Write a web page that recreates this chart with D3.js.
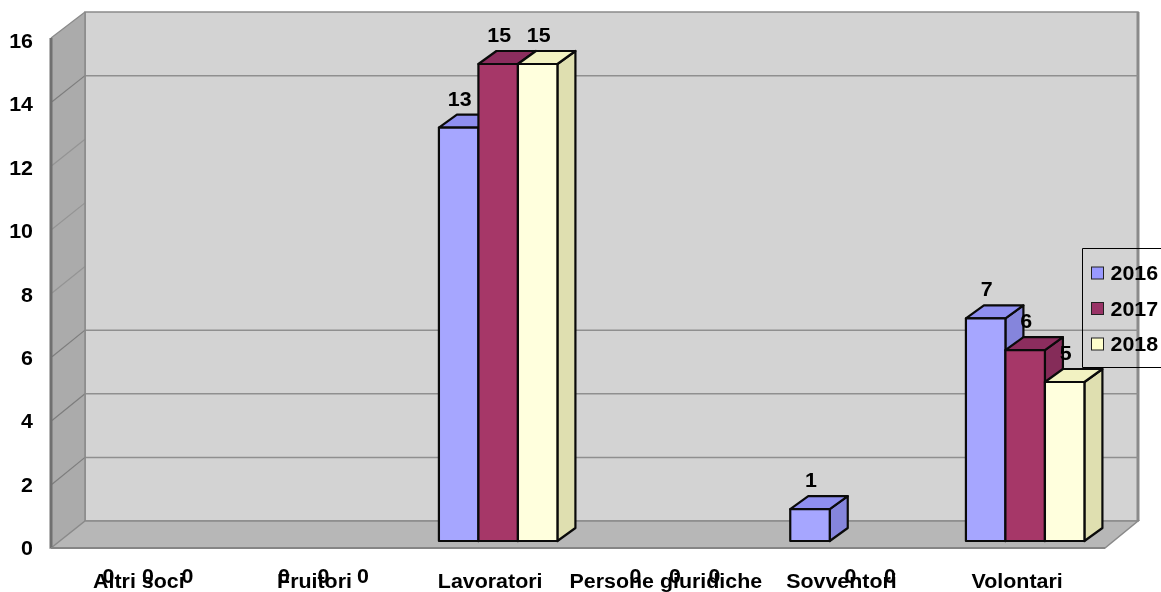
<!DOCTYPE html>
<html>
<head>
<meta charset="utf-8">
<script src="https://cdn.jsdelivr.net/npm/d3@7/dist/d3.min.js"></script>
<style>
html,body{margin:0;padding:0;background:#fff;overflow:hidden}
svg{display:block;filter:blur(0.45px)}
text{font-family:"Liberation Sans",Arial,sans-serif;font-weight:700;font-size:20px;fill:#000}
</style>
</head>
<body>
<svg id="c" width="1161" height="592"></svg>
<script>
const categories = ["Altri soci","Fruitori","Lavoratori","Persone giuridiche","Sovventori","Volontari"];
const seriesNames = ["2016","2017","2018"];
const v2016 = [0,0,13,0,1,7];
const v2017 = [0,0,15,0,0,6];
const v2018 = [0,0,15,0,0,5];
const seriesValues = [v2016,v2017,v2018];
const yTicks = [0,2,4,6,8,10,12,14,16];
const strongGrid = [2,4,6,14];
const faces = [
  {front:"#a6a6ff",top:"#8f8ff0",side:"#8585dc",key:"#9999ff"},
  {front:"#a63768",top:"#8c2d5e",side:"#852c59",key:"#993366"},
  {front:"#ffffdd",top:"#f2f2c2",side:"#dfdfb0",key:"#ffffcc"}
];

const svg = d3.select("#c");
const dx = 34;                 // wall depth offset
const bdx = 18, bdy = 13;      // bar depth offset
const yFront = d3.scaleLinear().domain([0,16]).range([548,38]);
const yBack  = d3.scaleLinear().domain([0,16]).range([521,12]);
const yBar   = d3.scaleLinear().domain([0,16]).range([541,32.2]);
const yLabel = d3.scaleLinear().domain([0,16]).range([555,48]);
const x0 = d3.scaleBand().domain(categories).range([51,1105]);
const x1 = d3.scaleBand().domain(seriesNames).range([0,118.5]);
const xL = 51, xR = 1105, xBack = 1138;
const poly = p => p.map(a=>a.join(",")).join(" ");

// back wall
svg.append("rect").attr("x",xL+dx).attr("y",yBack(16)).attr("width",xBack-xL-dx).attr("height",yBack(0)-yBack(16))
  .attr("fill","#d3d3d3").attr("stroke","#8a8a8a").attr("stroke-width",1.5);
// right edge of wall
svg.append("line").attr("x1",xBack).attr("x2",xBack).attr("y1",yBack(16)).attr("y2",yBack(0))
  .attr("stroke","#8a8a8a").attr("stroke-width",3);
// left wall
svg.append("polygon").attr("points",poly([[xL,yFront(16)],[xL+dx,yBack(16)],[xL+dx,yBack(0)],[xL,yFront(0)]]))
  .attr("fill","#ababab");
// floor
svg.append("polygon").attr("points",poly([[xL,yFront(0)],[xL+dx,yBack(0)],[xBack,yBack(0)],[xR,yFront(0)]]))
  .attr("fill","#b7b7b7").attr("stroke","#8a8a8a").attr("stroke-width",1.5);
// gridlines
svg.append("g").selectAll("line").data(strongGrid).join("line")
  .attr("x1",xL+dx).attr("x2",xBack).attr("y1",d=>yBack(d)).attr("y2",d=>yBack(d))
  .attr("stroke","#8f8f8f").attr("stroke-width",1.5);
svg.append("g").selectAll("line").data(yTicks.filter(d=>d>0&&d<16)).join("line")
  .attr("x1",xL+1).attr("x2",xL+dx).attr("y1",d=>yFront(d)).attr("y2",d=>yBack(d))
  .attr("stroke",d=>strongGrid.includes(d)?"#7d7d7d":"#949494").attr("stroke-width",1.2);
// wall edges
svg.append("line").attr("x1",xL+dx).attr("x2",xL+dx).attr("y1",yBack(16)).attr("y2",yBack(0)).attr("stroke","#8a8a8a").attr("stroke-width",1.5);
svg.append("line").attr("x1",xL).attr("x2",xL+dx).attr("y1",yFront(16)).attr("y2",yBack(16)).attr("stroke","#8a8a8a").attr("stroke-width",1.2);
svg.append("line").attr("x1",xL).attr("x2",xL).attr("y1",yFront(16)).attr("y2",yFront(0)).attr("stroke","#707070").attr("stroke-width",3);
svg.append("line").attr("x1",xL).attr("x2",xR).attr("y1",yFront(0)).attr("y2",yFront(0)).attr("stroke","#858585").attr("stroke-width",2);

// bars
const barX = (ci,si) => x0(categories[ci]) + x0.bandwidth()/2 + 8 - 59.25 + x1(seriesNames[si]);
const w = x1.bandwidth();
seriesValues.forEach((vals,si)=>{
  const g = svg.append("g").attr("class","s"+si);
  const f = faces[si];
  const rows = vals.map((v,ci)=>({v,ci})).filter(d=>d.v>0);
  const common = s => s.attr("stroke","#0a0a0a").attr("stroke-width",2.2).attr("stroke-linejoin","round");
  g.selectAll(".side").data(rows).join("polygon").attr("class","side")
    .attr("points",d=>{const x=barX(d.ci,si)+w,yt=yBar(d.v),yb=yBar(0);return poly([[x,yt],[x+bdx,yt-bdy],[x+bdx,yb-bdy],[x,yb]]);})
    .attr("fill",f.side).call(common);
  g.selectAll(".top").data(rows).join("polygon").attr("class","top")
    .attr("points",d=>{const x=barX(d.ci,si),yt=yBar(d.v);return poly([[x,yt],[x+bdx,yt-bdy],[x+w+bdx,yt-bdy],[x+w,yt]]);})
    .attr("fill",f.top).call(common);
  g.selectAll(".front").data(rows).join("rect").attr("class","front")
    .attr("x",d=>barX(d.ci,si)).attr("y",d=>yBar(d.v)).attr("width",w).attr("height",d=>yBar(0)-yBar(d.v))
    .attr("fill",f.front).call(common);
});

// text is horizontally stretched in the source image
const stretched = (sel,x,y,anchor) => sel
  .attr("text-anchor",anchor)
  .attr("transform",(d,i)=>`translate(${x(d,i)},${y(d,i)}) scale(1.07,1)`);

// y tick labels
svg.append("g").selectAll("text").data(yTicks).join("text").text(d=>d)
  .call(stretched,()=>33,d=>yLabel(d),"end");

// category labels
svg.append("g").selectAll("text").data(categories).join("text").text(d=>d)
  .call(stretched,d=>x0(d)+x0.bandwidth()/2,()=>588,"middle");

// data labels
seriesValues.forEach((vals,si)=>{
  svg.append("g").selectAll("text").data(vals.map((v,ci)=>({v,ci}))).join("text").text(d=>d.v)
    .call(stretched,d=>barX(d.ci,si)+w/2+1,d=>d.v===0?583:yBar(d.v)-22,"middle");
});

// legend
const lg = svg.append("g");
lg.append("path").attr("d","M1161,248.5H1082.5V367.5H1161").attr("fill","none").attr("stroke","#000").attr("stroke-width",1);
const legendY = d3.scalePoint().domain(seriesNames).range([273,344]);
seriesNames.forEach((s,i)=>{
  lg.append("rect").attr("x",1091.5).attr("y",legendY(s)-6).attr("width",12).attr("height",12)
    .attr("fill",faces[i].key).attr("stroke","#222").attr("stroke-width",1);
  lg.append("text").text(s).attr("text-anchor","start")
    .attr("transform",`translate(1110.5,${legendY(s)+7}) scale(1.07,1)`);
});
</script>
</body>
</html>
